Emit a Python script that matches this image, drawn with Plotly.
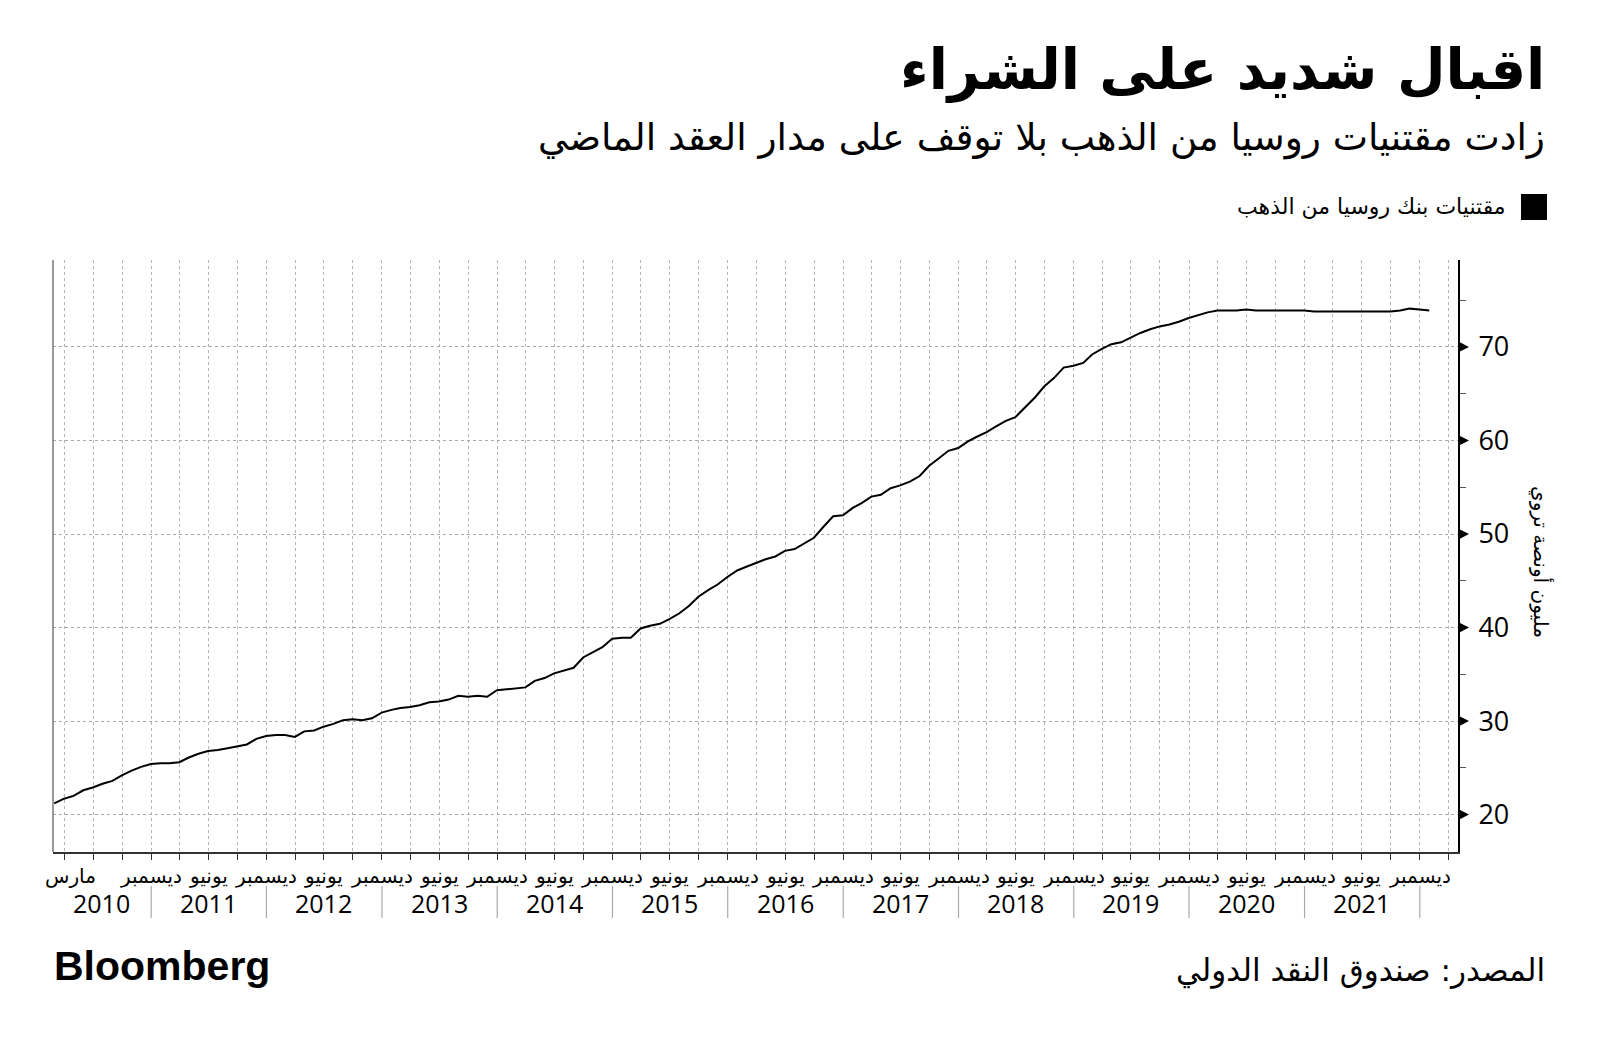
import plotly.graph_objects as go
import pandas as pd

# ---- data: Bank of Russia gold holdings, million troy ounces (month-end), Feb 2010 - Jan 2022
v2010 = [21.2, 21.7, 22.0, 22.6, 22.9, 23.3, 23.6, 24.2, 24.7, 25.1, 25.4]
v2011 = [25.5, 25.5, 25.6, 26.1, 26.5, 26.8, 26.9, 27.1, 27.3, 27.5, 28.1, 28.4]
v2012 = [28.5, 28.5, 28.3, 28.9, 29.0, 29.4, 29.7, 30.1, 30.2, 30.1, 30.3, 30.9]
v2013 = [31.2, 31.4, 31.5, 31.7, 32.0, 32.1, 32.3, 32.7, 32.6, 32.7, 32.6, 33.3]
v2014 = [33.4, 33.5, 33.6, 34.3, 34.6, 35.1, 35.4, 35.7, 36.8, 37.4, 37.9, 38.8]
v2015 = [38.9, 38.9, 39.9, 40.2, 40.4, 40.9, 41.5, 42.3, 43.3, 44.0, 44.6, 45.4]
v2016 = [46.1, 46.5, 46.9, 47.3, 47.6, 48.2, 48.4, 49.0, 49.6, 50.8, 51.9, 52.0]
v2017 = [52.8, 53.3, 54.0, 54.2, 54.9, 55.2, 55.6, 56.2, 57.3, 58.1, 58.9, 59.2]
v2018 = [59.9, 60.4, 60.9, 61.5, 62.1, 62.5, 63.5, 64.6, 65.8, 66.7, 67.8, 68.0]
v2019 = [68.3, 69.2, 69.8, 70.3, 70.5, 71.0, 71.5, 71.9, 72.2, 72.4, 72.7, 73.1]
v2020 = [73.4, 73.7, 73.9, 73.9, 73.9, 74.0, 73.9, 73.9, 73.9, 73.9, 73.9, 73.9]
v2021 = [73.8, 73.8, 73.8, 73.8, 73.8, 73.8, 73.8, 73.8, 73.8, 73.9, 74.1, 74.0]
v2022 = [73.9]
values = v2010 + v2011 + v2012 + v2013 + v2014 + v2015 + v2016 + v2017 + v2018 + v2019 + v2020 + v2021 + v2022
first_month = "2010-02-01"
dates = pd.date_range(first_month, periods=len(values), freq="MS") + pd.offsets.MonthEnd(0)

years = list(range(2010, 2022))
y_ticks = [20, 30, 40, 50, 60, 70]
month_first = "مارس"
month_dec = "ديسمبر"
month_jun = "يونيو"

title = "اقبال شديد على الشراء"
subtitle = "زادت مقتنيات روسيا من الذهب بلا توقف على مدار العقد الماضي"
legend_label = "مقتنيات بنك روسيا من الذهب"
y_title = "مليون أونصة تروي"
source = "المصدر: صندوق النقد الدولي"

# ---- layout geometry (pixels)
W, H = 1600, 1045
L, R, T, B = 53, 1458, 260, 852
PW, PH = R - L, B - T
def px(x):
    return (x - L) / PW
def py(y):
    return (B - y) / PH

AR = "DejaVu Sans"
x_range = ["2010-02-24", "2022-05-02"]
y_range = [16, 79.3]

fig = go.Figure()
fig.add_trace(go.Scatter(x=dates, y=values, mode="lines",
                         line=dict(color="black", width=2), showlegend=False,
                         hoverinfo="skip"))

fig.update_layout(
    width=W, height=H, margin=dict(l=L, r=W - R, t=T, b=H - B),
    paper_bgcolor="white", plot_bgcolor="white", showlegend=False,
    xaxis=dict(type="date", range=x_range, tick0="2010-01-01", dtick="M3",
               showgrid=True, gridcolor="#b4b4b4", griddash="dot", gridwidth=1,
               ticks="outside", ticklen=6, tickcolor="#333", tickwidth=1,
               showticklabels=False, showline=True, linecolor="#333", linewidth=1.5,
               zeroline=False),
    yaxis=dict(range=y_range, side="right", tickvals=y_ticks,
               showgrid=True, gridcolor="#a8a8a8", griddash="dot", gridwidth=1,
               ticks="", showline=True, linecolor="black", linewidth=2,
               tickfont=dict(family="Open Sans", size=27, color="black"),
               ticklabelstandoff=13,
               minor=dict(dtick=5, tick0=0, ticks="outside", ticklen=6,
                          tickcolor="#555", tickwidth=1, showgrid=False),
               zeroline=False),
)

shapes = []
# left axis line (gray)
shapes.append(dict(type="line", xref="paper", yref="paper", x0=0, x1=0, y0=0, y1=1,
                   line=dict(color="#777", width=1.5)))
# triangles at major y ticks
tw = 11 / PW
for v in y_ticks:
    shapes.append(dict(type="path", xref="paper", yref="y",
                       path=f"M 1,{v-0.6} L {1+tw},{v} L 1,{v+0.6} Z",
                       fillcolor="black", line=dict(width=0)))
# year separators
for yr in years[1:] + [2022]:
    shapes.append(dict(type="line", xref="x", yref="paper", x0=f"{yr}-01-01", x1=f"{yr}-01-01",
                       y0=py(886), y1=py(918), line=dict(color="#aaa", width=1.2)))
# legend square
shapes.append(dict(type="rect", xref="paper", yref="paper", x0=px(1521), x1=px(1547),
                   y0=py(220), y1=py(194), fillcolor="black", line=dict(width=0)))
fig.update_layout(shapes=shapes)

ann = []
# month labels
mfont = dict(family=AR, size=20, color="black")
ann.append(dict(x="2010-04-20", y=py(876), xref="x", yref="paper", text=month_first,
                showarrow=False, xanchor="center", yanchor="middle", font=mfont))
for yr in years[1:] + [2022]:
    ann.append(dict(x=f"{yr}-01-01", y=py(876), xref="x", yref="paper", text=month_dec,
                    showarrow=False, xanchor="center", yanchor="middle", font=mfont))
for yr in years[1:]:
    ann.append(dict(x=f"{yr}-07-01", y=py(876), xref="x", yref="paper", text=month_jun,
                    showarrow=False, xanchor="center", yanchor="middle", font=mfont))
# year labels
for yr in years:
    xpos = "2010-07-28" if yr == 2010 else f"{yr}-07-01"
    ann.append(dict(x=xpos, y=py(903), xref="x", yref="paper", text=str(yr),
                    showarrow=False, xanchor="center", yanchor="middle",
                    font=dict(family="Open Sans", size=25, color="black")))
# titles
ann.append(dict(x=px(1547), y=py(70), xref="paper", yref="paper", text=f"<b>{title}</b>",
                showarrow=False, xanchor="right", yanchor="middle",
                font=dict(family=AR, size=56, color="black")))
ann.append(dict(x=px(1547), y=py(137), xref="paper", yref="paper", text=subtitle,
                showarrow=False, xanchor="right", yanchor="middle",
                font=dict(family=AR, size=37.5, color="black")))
ann.append(dict(x=px(1508), y=py(206), xref="paper", yref="paper", text=legend_label,
                showarrow=False, xanchor="right", yanchor="middle",
                font=dict(family=AR, size=22, color="black")))
# y title
ann.append(dict(x=px(1541), y=py(562), xref="paper", yref="paper", text=y_title,
                showarrow=False, textangle=90, xanchor="center", yanchor="middle",
                font=dict(family=AR, size=20, color="black")))
# footer
ann.append(dict(x=px(52), y=py(966), xref="paper", yref="paper", text="<b>Bloomberg</b>",
                showarrow=False, xanchor="left", yanchor="middle",
                font=dict(family="Liberation Sans", size=41, color="black")))
ann.append(dict(x=px(1547), y=py(970), xref="paper", yref="paper", text=source,
                showarrow=False, xanchor="right", yanchor="middle",
                font=dict(family=AR, size=31, color="black")))
fig.update_layout(annotations=ann)

fig.write_html("out.html")
